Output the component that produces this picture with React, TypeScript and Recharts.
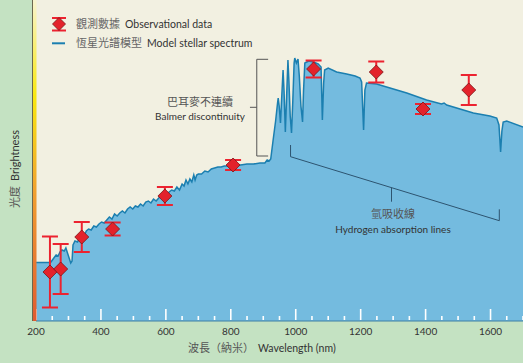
import React from 'react';
import { ComposedChart, Area, Scatter, ErrorBar, XAxis, YAxis, CartesianGrid, ReferenceLine } from 'recharts';

// model spectrum, wavelength (nm) and brightness (arbitrary units)
const spectrumNm = [
  200, 240, 246, 255, 262, 268, 274, 280, 287, 292, 297, 302, 307, 311, 314, 320, 328, 335, 342, 348,
  355, 362, 370, 378, 386, 394, 402, 410, 418, 426, 434, 442, 450, 458, 466, 474, 482, 490, 498, 506,
  514, 522, 530, 538, 546, 554, 562, 570, 578, 586, 594, 602, 610, 618, 626, 634, 642, 650, 656, 662,
  668, 674, 680, 686, 690, 695, 700, 710, 720, 730, 740, 750, 760, 770, 780, 790, 800, 815, 830, 850,
  870, 890, 905, 912, 918, 923, 930, 938, 944, 946, 949, 953, 957, 961, 964, 968, 972, 976, 979, 983,
  987, 991, 995, 997, 1002, 1007, 1011, 1016, 1021, 1024, 1028, 1040, 1055, 1069, 1078, 1082, 1086, 1089, 1100, 1126,
  1157, 1183, 1198, 1203, 1209, 1213, 1218, 1249, 1280, 1342, 1403, 1449, 1457, 1465, 1547, 1598, 1619, 1626, 1631, 1635,
  1639, 1650, 1700,
];
const spectrumFlux = [
  58.5, 58.5, 59, 63, 66, 65, 69, 71, 70, 73, 68, 63, 58, 60, 76, 80, 79, 84, 86, 85,
  90, 92, 91, 95, 94, 97, 99, 98, 101, 104, 102, 107, 105, 108, 110, 108, 112, 114, 112, 115,
  114, 117, 115, 119, 120, 118, 122, 120, 123, 125, 127, 126, 129, 131, 130, 134, 131, 137, 135, 141,
  137, 142, 139, 146, 141, 146, 147, 147, 150, 149, 152, 153, 154, 154, 155, 155, 155, 156, 156, 157,
  157, 158, 158, 161, 160, 162, 180, 200, 218, 223, 215, 198, 225, 251, 230, 189, 225, 261, 240, 205,
  188, 220, 258, 263, 258, 262, 245, 215, 199, 230, 258, 260, 259, 257, 254, 201, 238, 251, 253, 249,
  247, 245, 243, 239, 191, 231, 238, 237, 234, 228, 221, 217, 218, 216, 208, 205, 203, 196, 169, 190,
  199, 200, 194,
];

// observational data points with error
const obsNm = [243, 276, 341, 436, 597, 807, 1055, 1248, 1392, 1533];
const obsFlux = [49, 52, 84, 92, 125, 156, 252, 249, 212, 231];
const obsErr = [35.5, 25, 15, 6.5, 9, 5, 8.5, 10.5, 5, 15];

const xTicks = [
  200, 250, 300, 350, 400, 450, 500, 550, 600, 650, 700, 750, 800, 850, 900, 950,
  1000, 1050, 1100, 1150, 1200, 1250, 1300, 1350, 1400, 1450, 1500, 1550, 1600, 1650, 1700,
];
const xLabels = [200, 400, 600, 800, 1000, 1200, 1400, 1600];

const spectrumData = spectrumNm.map((nm, i) => ({ nm, flux: spectrumFlux[i] }));
const obsData = obsNm.map((nm, i) => ({ nm, flux: obsFlux[i], err: obsErr[i] }));

const FONT = "Lato, 'Noto Sans CJK TC', sans-serif";
const CJK = "'Noto Sans CJK TC', sans-serif";

const WaveTick = (props: any) => {
  const { x, y, payload } = props;
  const v = payload.value;
  const major = v % 200 === 0;
  return (
    <g>
      <line x1={x} x2={x} y1={y - (major ? 12 : 5)} y2={y - 1} stroke="#ffffff" strokeWidth={1.6} />
      {xLabels.includes(v) && (
        <text x={x} y={y + 14} textAnchor="middle" fontSize={10} fill="#333" fontFamily={FONT}>{v}</text>
      )}
    </g>
  );
};

const Diamond = (props: any) => {
  const { cx, cy } = props;
  const r = 7;
  return (
    <polygon
      points={`${cx},${cy - r} ${cx + r},${cy} ${cx},${cy + r} ${cx - r},${cy}`}
      fill="#e3222b"
      stroke="#7a1518"
      strokeWidth={0.8}
    />
  );
};

export default function App() {
  return (
    <div style={{ position: 'absolute', left: 0, top: 0, width: 523, height: 363, background: '#c4e2c2', fontFamily: FONT, overflow: 'hidden' }}>
      <ComposedChart width={523} height={363} margin={{ top: 0, right: 0, left: 36, bottom: 0 }}>
        <CartesianGrid horizontal={false} vertical={false} fill="#f2f0e1" stroke="none" />
        <YAxis type="number" domain={[0, 321]} hide />
        <Area
          data={spectrumData}
          dataKey="flux"
          type="linear"
          stroke="#1b7fb0"
          strokeWidth={1.5}
          fill="#74bbdf"
          fillOpacity={1}
          isAnimationActive={false}
        />
        <ReferenceLine segment={[{ x: 880, y: 261.7 }, { x: 880, y: 165 }]} stroke="#555" strokeWidth={1} />
        <ReferenceLine segment={[{ x: 880, y: 261.7 }, { x: 915, y: 261.7 }]} stroke="#555" strokeWidth={1} />
        <ReferenceLine segment={[{ x: 880, y: 165 }, { x: 915, y: 165 }]} stroke="#555" strokeWidth={1} />
        <ReferenceLine segment={[{ x: 859, y: 213.7 }, { x: 880, y: 213.7 }]} stroke="#555" strokeWidth={1} />
        <ReferenceLine segment={[{ x: 984, y: 176 }, { x: 984, y: 164.3 }]} stroke="#2d5470" strokeWidth={1} />
        <ReferenceLine segment={[{ x: 984, y: 164.3 }, { x: 1627, y: 100.3 }]} stroke="#2d5470" strokeWidth={1} />
        <ReferenceLine segment={[{ x: 1627, y: 111.7 }, { x: 1627, y: 100.3 }]} stroke="#2d5470" strokeWidth={1} />
        <ReferenceLine segment={[{ x: 1295, y: 133.3 }, { x: 1295, y: 119.3 }]} stroke="#2d5470" strokeWidth={1} />
        <Scatter data={obsData} dataKey="flux" shape={<Diamond />} isAnimationActive={false}>
          <ErrorBar dataKey="err" direction="y" width={8} stroke="#ec2330" strokeWidth={2} isAnimationActive={false} />
        </Scatter>
        <XAxis
          dataKey="nm"
          type="number"
          domain={[200, 1700]}
          ticks={xTicks}
          interval={0}
          height={42}
          tickSize={0}
          tickMargin={0}
          tickLine={false}
          axisLine={{ stroke: '#3d7fa5' }}
          tick={<WaveTick />}
        />
      </ComposedChart>

      <svg width={523} height={363} style={{ position: 'absolute', left: 0, top: 0, pointerEvents: 'none' }}>
        <defs>
          <linearGradient id="bright" x1="0" y1="0" x2="0" y2="1">
            <stop offset="0" stopColor="#f8f4d0" />
            <stop offset="0.3" stopColor="#f8e810" />
            <stop offset="0.6" stopColor="#f0a030" />
            <stop offset="1" stopColor="#e05a30" />
          </linearGradient>
        </defs>
        <line x1={32.5} x2={32.5} y1={0} y2={321} stroke="#6b6850" strokeWidth={1} />
        <rect x={33} y={0} width={3.5} height={321} fill="url(#bright)" />

        {/* legend */}
        <line x1={52} x2={66} y1={18} y2={18} stroke="#ec2330" strokeWidth={2} />
        <line x1={52} x2={66} y1={30.5} y2={30.5} stroke="#ec2330" strokeWidth={2} />
        <line x1={59} x2={59} y1={18} y2={30.5} stroke="#ec2330" strokeWidth={2} />
        <polygon points="59,17.5 65.5,24 59,30.5 52.5,24" fill="#e3222b" stroke="#7a1518" strokeWidth={0.8} />
        <text x={76} y={28} fontSize={11} fill="#666" fontFamily={CJK}>觀測數據</text>
        <text x={125} y={28} fontSize={10.5} fill="#333" fontFamily={FONT}>Observational data</text>
        <line x1={52} x2={65} y1={43.3} y2={43.3} stroke="#1b7fb0" strokeWidth={2} />
        <text x={76} y={47} fontSize={11} fill="#666" fontFamily={CJK}>恆星光譜模型</text>
        <text x={147} y={47} fontSize={10.5} fill="#333" fontFamily={FONT}>Model stellar spectrum</text>

        {/* annotations */}
        <text x={200} y={106} textAnchor="middle" fontSize={11} fill="#555" fontFamily={CJK}>巴耳麥不連續</text>
        <text x={200} y={120} textAnchor="middle" fontSize={10} fill="#333" fontFamily={FONT}>Balmer discontinuity</text>
        <text x={393} y={218} textAnchor="middle" fontSize={11} fill="#555" fontFamily={CJK}>氫吸收線</text>
        <text x={393} y={233} textAnchor="middle" fontSize={10} fill="#333" fontFamily={FONT}>Hydrogen absorption lines</text>

        {/* axis titles */}
        <text x={188} y={352} fontSize={11} fill="#555" fontFamily={CJK}>波長（納米）</text>
        <text x={258} y={352} fontSize={10.5} fill="#333" fontFamily={FONT}>Wavelength (nm)</text>
        <text transform="translate(19,169) rotate(-90)" textAnchor="middle" fontSize={11} fill="#555" fontFamily={FONT}>
          <tspan fontFamily={CJK}>光度</tspan>
          <tspan dx={5} fill="#333">Brightness</tspan>
        </text>
      </svg>
    </div>
  );
}
